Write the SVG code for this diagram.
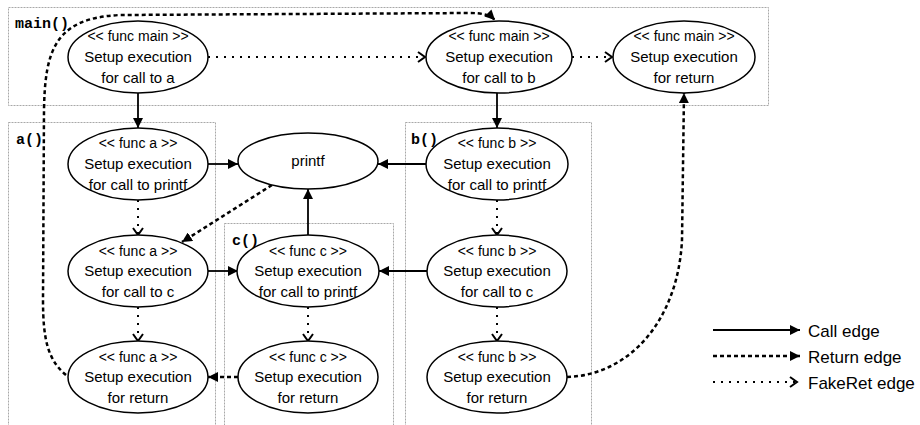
<svg xmlns="http://www.w3.org/2000/svg" width="920" height="425" viewBox="0 0 920 425">
<defs>
<marker id="arr" viewBox="0 0 10 10" refX="10" refY="5" markerWidth="10" markerHeight="10" markerUnits="userSpaceOnUse" orient="auto">
<path d="M0,0 L10,5 L0,10 z" fill="#000"/>
</marker>
<marker id="chev" viewBox="0 0 10 12" refX="8" refY="6" markerWidth="10" markerHeight="12" markerUnits="userSpaceOnUse" orient="auto">
<path d="M1,1 L8,6 L1,11" fill="none" stroke="#000" stroke-width="2"/>
</marker>
<style>
.cl{fill:none;stroke:#a8a8a8;stroke-width:1;stroke-dasharray:2,1}
.cll{font-family:"Liberation Mono",monospace;font-weight:bold;font-size:15px;fill:#000}
.nd ellipse{fill:#fff;stroke:#000;stroke-width:1.5}
.nd text{font-family:"Liberation Sans",Arial,sans-serif;font-size:15px;fill:#000;text-anchor:middle}
.nd .h{font-size:14px}
.call{fill:none;stroke:#000;stroke-width:1.8;marker-end:url(#arr)}
.ret{fill:none;stroke:#000;stroke-width:2.5;stroke-dasharray:4,3;marker-end:url(#arr)}
.fake{fill:none;stroke:#000;stroke-width:2;stroke-dasharray:2,6;marker-end:url(#chev)}
.lg{font-family:"Liberation Sans",Arial,sans-serif;font-size:17px;fill:#000}
</style>
</defs>
<rect width="920" height="425" fill="#fff"/>
<g id="clusters">
<rect class="cl" x="8.5" y="7.5" width="760" height="98"/>
<text class="cll" x="15" y="28">main()</text>
<rect class="cl" x="8.5" y="122.5" width="207" height="320"/>
<text class="cll" x="16" y="144">a()</text>
<rect class="cl" x="405.5" y="122.5" width="186" height="320"/>
<text class="cll" x="411" y="144">b()</text>
<rect class="cl" x="224.5" y="223.5" width="169" height="220"/>
<text class="cll" x="232" y="245">c()</text>
</g>
<g id="connectors">
<path class="fake" d="M208,57 L425,57"/>
<path class="fake" d="M572,57 L612,57"/>
<path class="call" d="M138,93 L138,128"/>
<path class="call" d="M497,93 L497,128"/>
<path class="call" d="M208,164 L238,164"/>
<path class="call" d="M427,164 L378,164"/>
<path class="call" d="M308,235 L308,189"/>
<path class="ret" d="M272,185 L182,242"/>
<path class="fake" d="M138,200 L138,235"/>
<path class="fake" d="M138,307 L138,341"/>
<path class="call" d="M208,271 L238,271"/>
<path class="call" d="M427,271 L379,271"/>
<path class="fake" d="M497,200 L497,235"/>
<path class="fake" d="M497,307 L497,341"/>
<path class="fake" d="M308,307 L308,341"/>
<path class="ret" d="M238,377 L208,377"/>
<path class="ret" d="M66,375 C48,360 43,340 43,300 L44,110 C45,50 55,18 120,15 L470,13 C482,13 490,15 495,20"/>
<path class="ret" d="M567,377 C630,375 678,320 682,240 L684,93"/>
</g>
<g id="main_a" class="nd">
<ellipse cx="138" cy="57" rx="70" ry="36"/>
<text class="h" x="138" y="41">&lt;&lt; func main &gt;&gt;</text>
<text x="138" y="62">Setup execution</text>
<text x="138" y="83">for call to a</text>
</g>
<g id="main_b" class="nd">
<ellipse cx="499" cy="57" rx="73" ry="36"/>
<text class="h" x="499" y="41">&lt;&lt; func main &gt;&gt;</text>
<text x="499" y="62">Setup execution</text>
<text x="499" y="83">for call to b</text>
</g>
<g id="main_ret" class="nd">
<ellipse cx="684" cy="57" rx="71" ry="36"/>
<text class="h" x="684" y="41">&lt;&lt; func main &gt;&gt;</text>
<text x="684" y="62">Setup execution</text>
<text x="684" y="83">for return</text>
</g>
<g id="a_printf" class="nd">
<ellipse cx="138" cy="164" rx="70" ry="36"/>
<text class="h" x="138" y="148">&lt;&lt; func a &gt;&gt;</text>
<text x="138" y="169">Setup execution</text>
<text x="138" y="190">for call to printf</text>
</g>
<g id="printf" class="nd">
<ellipse cx="308" cy="161" rx="70" ry="28"/>
<text x="308" y="166">printf</text>
</g>
<g id="b_printf" class="nd">
<ellipse cx="497" cy="164" rx="71" ry="36"/>
<text class="h" x="497" y="148">&lt;&lt; func b &gt;&gt;</text>
<text x="497" y="169">Setup execution</text>
<text x="497" y="190">for call to printf</text>
</g>
<g id="a_c" class="nd">
<ellipse cx="138" cy="271" rx="70" ry="36"/>
<text class="h" x="138" y="256">&lt;&lt; func a &gt;&gt;</text>
<text x="138" y="276">Setup execution</text>
<text x="138" y="297">for call to c</text>
</g>
<g id="c_printf" class="nd">
<ellipse cx="308" cy="271" rx="71" ry="36"/>
<text class="h" x="308" y="256">&lt;&lt; func c &gt;&gt;</text>
<text x="308" y="276">Setup execution</text>
<text x="308" y="297">for call to printf</text>
</g>
<g id="b_c" class="nd">
<ellipse cx="497" cy="271" rx="70" ry="36"/>
<text class="h" x="497" y="256">&lt;&lt; func b &gt;&gt;</text>
<text x="497" y="276">Setup execution</text>
<text x="497" y="297">for call to c</text>
</g>
<g id="a_ret" class="nd">
<ellipse cx="138" cy="377" rx="70" ry="36"/>
<text class="h" x="138" y="362">&lt;&lt; func a &gt;&gt;</text>
<text x="138" y="382">Setup execution</text>
<text x="138" y="403">for return</text>
</g>
<g id="c_ret" class="nd">
<ellipse cx="308" cy="377" rx="70" ry="36"/>
<text class="h" x="308" y="362">&lt;&lt; func c &gt;&gt;</text>
<text x="308" y="382">Setup execution</text>
<text x="308" y="403">for return</text>
</g>
<g id="b_ret" class="nd">
<ellipse cx="497" cy="377" rx="70" ry="36"/>
<text class="h" x="497" y="362">&lt;&lt; func b &gt;&gt;</text>
<text x="497" y="382">Setup execution</text>
<text x="497" y="403">for return</text>
</g>
<g id="legend">
<path class="call" d="M713,330 L800,330"/>
<path class="ret" d="M713,356 L800,356"/>
<path class="fake" d="M713,382 L797,382"/>
<text class="lg" x="808" y="337">Call edge</text>
<text class="lg" x="808" y="363">Return edge</text>
<text class="lg" x="808" y="389">FakeRet edge</text>
</g>
</svg>
